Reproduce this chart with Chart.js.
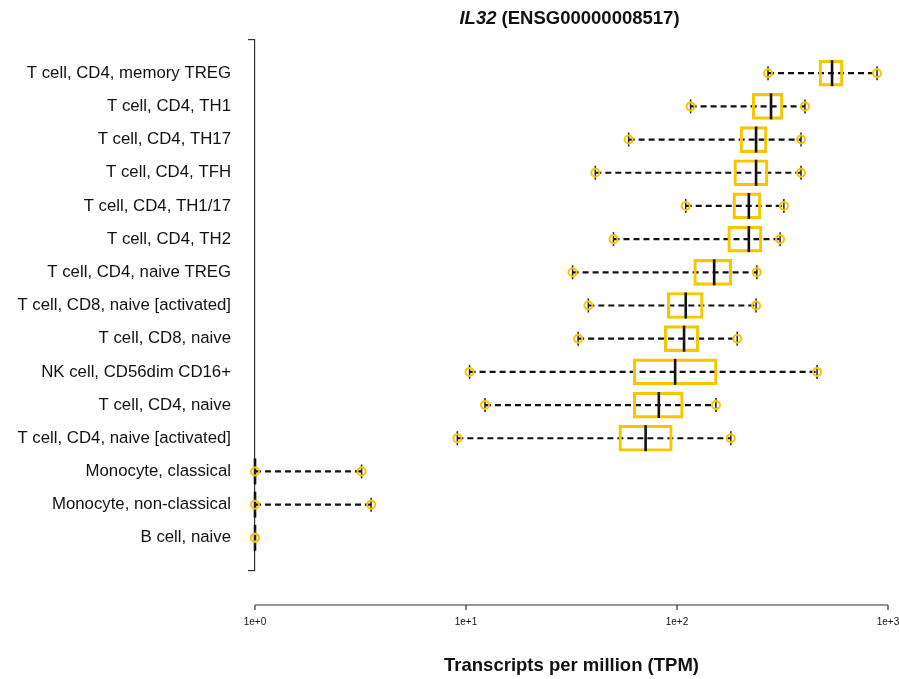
<!DOCTYPE html>
<html>
<head>
<meta charset="utf-8">
<script src="https://cdn.jsdelivr.net/npm/chart.js@4.4.1/dist/chart.umd.min.js"></script>
<style>
  body { margin: 0; background: #fff; }
</style>
</head>
<body>
<canvas id="chart" width="899" height="679"></canvas>
<script>
const geneName = "IL32";
const geneId = "ENSG00000008517";

const cells = [
    "T cell, CD4, memory TREG",
    "T cell, CD4, TH1",
    "T cell, CD4, TH17",
    "T cell, CD4, TFH",
    "T cell, CD4, TH1/17",
    "T cell, CD4, TH2",
    "T cell, CD4, naive TREG",
    "T cell, CD8, naive [activated]",
    "T cell, CD8, naive",
    "NK cell, CD56dim CD16+",
    "T cell, CD4, naive",
    "T cell, CD4, naive [activated]",
    "Monocyte, classical",
    "Monocyte, non-classical",
    "B cell, naive"
];

// TPM values
const mins    = [270, 116, 59, 41, 110, 50, 32, 38, 34, 10.4, 12.3, 9.1, 1, 1, 1];
const q1s     = [471, 227, 199, 186, 184, 174, 120, 90, 87, 62, 62, 53, 1, 1, 1];
const medians = [543, 279, 237, 237, 219, 219, 150, 110, 108, 98, 82, 71, 1, 1, 1];
const q3s     = [612, 318, 267, 270, 250, 253, 182, 133, 127, 155, 107, 95, 1, 1, 1];
const maxs    = [887, 404, 387, 387, 321, 308, 239, 237, 193, 461, 153, 180, 3.2, 3.55, 1];

const tickVals = [1, 10, 100, 1000];
const tickLabels = ["1e+0", "1e+1", "1e+2", "1e+3"];

// empty slots above and below so the axis runs a bit past the rows
const yLabels = [" ", ...cells, "  "];

const yellow = "#f7c600";
const font = '"Liberation Sans", Arial, Helvetica, sans-serif';

// whiskers: min -> max for each row, broken with a null point
const whiskerData = [];
cells.forEach((c, i) => {
    whiskerData.push({x: mins[i], y: c});
    whiskerData.push({x: maxs[i], y: c});
    whiskerData.push({x: null, y: c});
});

const endPoints = [];
cells.forEach((c, i) => {
    endPoints.push({x: mins[i], y: c});
    endPoints.push({x: maxs[i], y: c});
});

// title with italic gene name
const titlePlugin = {
    id: "geneTitle",
    afterDraw(chart){
        const {ctx, chartArea} = chart;
        const f1 = "italic bold 18.5px " + font;
        const f2 = "bold 18.5px " + font;
        const rest = " (" + geneId + ")";
        ctx.save();
        ctx.font = f1;
        const w1 = ctx.measureText(geneName).width;
        ctx.font = f2;
        const w2 = ctx.measureText(rest).width;
        const x0 = (chartArea.left + chartArea.right) / 2 - 2 - (w1 + w2) / 2;
        ctx.fillStyle = "#111";
        ctx.textBaseline = "middle";
        ctx.font = f1;
        ctx.fillText(geneName, x0, 19);
        ctx.font = f2;
        ctx.fillText(rest, x0 + w1, 19);
        ctx.restore();
    }
};

// R style x axis line, sitting a little below the plot area
const xAxisLine = {
    id: "xAxisLine",
    afterDraw(chart){
        const {ctx, chartArea} = chart;
        const xs = chart.scales.x;
        const y = chartArea.bottom + 34;
        ctx.save();
        ctx.strokeStyle = "#333";
        ctx.lineWidth = 1.2;
        ctx.beginPath();
        ctx.moveTo(xs.getPixelForValue(tickVals[0]), y);
        ctx.lineTo(xs.getPixelForValue(tickVals[tickVals.length - 1]), y);
        tickVals.forEach(v => {
            const px = xs.getPixelForValue(v);
            ctx.moveTo(px, y);
            ctx.lineTo(px, y + 5);
        });
        ctx.stroke();
        ctx.restore();
    }
};

new Chart(document.getElementById("chart"), {
    type: "bar",
    data: {
        labels: yLabels,
        datasets: [
            {
                type: "line",
                label: "whisker",
                data: whiskerData,
                borderColor: "#111",
                borderWidth: 2.2,
                borderDash: [6, 4],
                pointRadius: 0,
                spanGaps: false,
                clip: false,
                order: 5
            },
            {
                label: "box",
                data: cells.map((c, i) => ({y: c, x: [q1s[i], q3s[i]]})),
                backgroundColor: "rgba(0,0,0,0)",
                borderColor: yellow,
                borderWidth: 2.5,
                borderSkipped: false,
                barThickness: 26,
                clip: false,
                order: 4
            },
            {
                type: "line",
                label: "median",
                data: cells.map((c, i) => ({x: medians[i], y: c})),
                showLine: false,
                pointStyle: "line",
                rotation: 90,
                pointRadius: 13,
                pointBorderWidth: 2.6,
                pointBorderColor: "#111",
                clip: false,
                order: 3
            },
            {
                type: "line",
                label: "caps",
                data: endPoints,
                showLine: false,
                pointStyle: "line",
                rotation: 90,
                pointRadius: 7,
                pointBorderWidth: 1.5,
                pointBorderColor: "#222",
                clip: false,
                order: 2
            },
            {
                type: "line",
                label: "ends",
                data: endPoints,
                showLine: false,
                pointStyle: "circle",
                pointRadius: 4,
                pointBorderWidth: 2,
                pointBorderColor: yellow,
                pointBackgroundColor: "rgba(0,0,0,0)",
                clip: false,
                order: 1
            }
        ]
    },
    options: {
        responsive: false,
        animation: false,
        indexAxis: "y",
        layout: {autoPadding: false, padding: {top: 40, right: 0, left: 0, bottom: 0}},
        plugins: {
            legend: {display: false},
            tooltip: {enabled: false}
        },
        scales: {
            x: {
                type: "logarithmic",
                min: 1,
                max: 1000,
                afterBuildTicks: s => { s.ticks = tickVals.map(v => ({value: v})); },
                afterFit: s => {
                    s.height = 108;
                    s.paddingLeft = 0;
                    s.paddingRight = 11;
                },
                // invisible tick marks, only used to push the labels down
                grid: {display: true, drawOnChartArea: false, drawTicks: true, tickLength: 44, color: "rgba(0,0,0,0)"},
                border: {display: false},
                ticks: {
                    padding: 1,
                    color: "#111",
                    font: {family: font, size: 10},
                    maxRotation: 0,
                    callback: (v, i) => tickLabels[i]
                },
                title: {
                    display: true,
                    text: "Transcripts per million (TPM)",
                    color: "#111",
                    font: {family: font, size: 18.5, weight: "bold"},
                    padding: {top: 0, bottom: 2}
                }
            },
            y: {
                type: "category",
                offset: false,
                afterFit: s => { s.width = 255; },
                grid: {
                    offset: false,
                    drawOnChartArea: false,
                    drawTicks: true,
                    tickLength: 7,
                    lineWidth: 1.2,
                    color: c => (c.index === 0 || c.index === yLabels.length - 1) ? "#333" : "rgba(0,0,0,0)"
                },
                border: {display: true, color: "#333", width: 1.2},
                ticks: {
                    padding: 17,
                    color: "#111",
                    autoSkip: false,
                    font: {family: font, size: 16.8}
                }
            }
        }
    },
    plugins: [titlePlugin, xAxisLine]
});
</script>
</body>
</html>
